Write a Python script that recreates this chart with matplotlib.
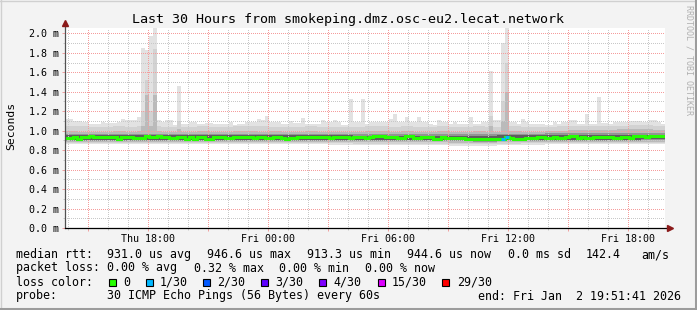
import numpy as np
import matplotlib.pyplot as plt
from matplotlib.patches import Rectangle
from matplotlib.ticker import FixedLocator, FuncFormatter

W, H = 697, 310
MONO = 'DejaVu Sans Mono'

# time axis in hours since Thu 00:00, last 30 hours ending Fri 19:51:41
t_start = 13 + 51 / 60 + 41 / 3600
t_end = t_start + 30

# median rtt per 12 minute step (ms)
median_ms = [
    0.924, 0.924, 0.934, 0.917, 0.934, 0.934, 0.940, 0.934, 0.934, 0.934,
    0.934, 0.934, 0.934, 0.917, 0.934, 0.934, 0.934, 0.924, 0.924, 0.924,
    0.945, 0.930, 0.930, 0.945, 0.934, 0.934, 0.924, 0.924, 0.934, 0.934,
    0.917, 0.934, 0.917, 0.934, 0.934, 0.917, 0.917, 0.934, 0.934, 0.934,
    0.924, 0.924, 0.934, 0.934, 0.934, 0.934, 0.934, 0.924, 0.934, 0.934,
    0.924, 0.924, 0.934, 0.934, 0.924, 0.913, 0.924, 0.924, 0.934, 0.934,
    0.934, 0.934, 0.934, 0.934, 0.934, 0.934, 0.924, 0.934, 0.934, 0.934,
    0.934, 0.924, 0.934, 0.934, 0.934, 0.924, 0.934, 0.940, 0.940, 0.940,
    0.934, 0.934, 0.934, 0.924, 0.924, 0.940, 0.940, 0.924, 0.924, 0.930,
    0.930, 0.930, 0.917, 0.917, 0.930, 0.924, 0.924, 0.924, 0.924, 0.924,
    0.913, 0.913, 0.913, 0.917, 0.917, 0.917, 0.913, 0.913, 0.913, 0.913,
    0.934, 0.924, 0.917, 0.917, 0.917, 0.924, 0.924, 0.924, 0.934, 0.934,
    0.924, 0.924, 0.934, 0.924, 0.924, 0.934, 0.940, 0.940, 0.924, 0.934,
    0.924, 0.924, 0.934, 0.934, 0.934, 0.934, 0.934, 0.924, 0.924, 0.934,
    0.934, 0.924, 0.945, 0.945, 0.940, 0.934, 0.945, 0.945, 0.940, 0.945,
]

# slowest ping per step (top of the smoke)
smoke_max = [
    1.120, 1.120, 1.100, 1.100, 1.090, 1.090, 1.066, 1.073, 1.073, 1.090,
    1.083, 1.083, 1.083, 1.090, 1.120, 1.107, 1.114, 1.114, 1.145, 1.850,
    1.830, 1.970, 2.100, 1.107, 1.090, 1.107, 1.107, 1.056, 1.460, 1.073,
    1.073, 1.090, 1.090, 1.066, 1.066, 1.080, 1.080, 1.073, 1.066, 1.073,
    1.073, 1.090, 1.056, 1.066, 1.066, 1.090, 1.090, 1.090, 1.124, 1.107,
    1.148, 1.090, 1.090, 1.090, 1.073, 1.073, 1.100, 1.080, 1.080, 1.134,
    1.073, 1.073, 1.073, 1.073, 1.107, 1.090, 1.090, 1.107, 1.090, 1.056,
    1.056, 1.330, 1.090, 1.090, 1.320, 1.073, 1.090, 1.090, 1.090, 1.090,
    1.090, 1.124, 1.169, 1.090, 1.090, 1.141, 1.090, 1.090, 1.141, 1.090,
    1.090, 1.066, 1.056, 1.107, 1.090, 1.090, 1.073, 1.090, 1.073, 1.073,
    1.073, 1.141, 1.073, 1.073, 1.090, 1.090, 1.610, 1.107, 1.107, 1.900,
    2.100, 1.090, 1.090, 1.073, 1.124, 1.090, 1.073, 1.073, 1.066, 1.066,
    1.056, 1.056, 1.090, 1.073, 1.090, 1.090, 1.114, 1.107, 1.073, 1.073,
    1.176, 1.073, 1.073, 1.350, 1.080, 1.080, 1.073, 1.090, 1.090, 1.090,
    1.090, 1.100, 1.100, 1.100, 1.090, 1.090, 1.107, 1.107, 1.090, 1.073,
]

# inner smoke levels, 36 minute steps
smoke_hi2 = [
    1.05, 1.05, 1.04, 1.04, 1.05, 1.04, 1.05, 1.05, 1.04, 1.04,
    1.04, 1.05, 1.04, 1.04, 1.05, 1.05, 1.05, 1.04, 1.04, 1.04,
    1.05, 1.04, 1.04, 1.04, 1.04, 1.05, 1.05, 1.04, 1.05, 1.04,
    1.04, 1.05, 1.04, 1.04, 1.05, 1.04, 1.04, 1.05, 1.04, 1.04,
    1.04, 1.05, 1.05, 1.05, 1.05, 1.05, 1.05, 1.06, 1.06, 1.05,
]
smoke_hi3 = [
    1.00, 0.99, 0.99, 0.99, 1.00, 0.99, 1.00, 1.00, 0.99, 0.99,
    0.99, 1.00, 0.99, 0.99, 1.00, 1.00, 0.99, 1.00, 0.99, 0.99,
    1.00, 0.99, 0.99, 0.99, 0.99, 1.00, 1.00, 0.99, 1.00, 0.99,
    0.99, 1.00, 0.99, 0.99, 1.00, 0.99, 0.99, 1.00, 0.99, 0.99,
    1.00, 1.00, 1.01, 1.01, 1.01, 1.01, 1.02, 1.02, 1.02, 1.01,
]
smoke_hi4 = [0.966, 0.966, 0.966, 0.966, 0.966, 0.966, 0.966, 0.966, 0.966, 0.966,
             0.966, 0.966, 0.966, 0.966, 0.966, 0.966, 0.966, 0.966, 0.966, 0.970,
             0.975, 0.975, 0.978, 0.978, 0.978]
smoke_hi5 = [0.952, 0.952, 0.952, 0.952, 0.952, 0.952, 0.952, 0.952, 0.952, 0.952,
             0.952, 0.952, 0.950, 0.950, 0.950, 0.950, 0.948, 0.948, 0.952, 0.955,
             0.958, 0.958, 0.960, 0.960, 0.960]
smoke_lo5 = [0.908, 0.908, 0.908, 0.908, 0.908, 0.908, 0.908, 0.908, 0.906, 0.906,
             0.906, 0.905, 0.903, 0.903, 0.903, 0.903, 0.900, 0.898, 0.903, 0.906,
             0.906, 0.908, 0.908, 0.908, 0.910]
smoke_lo4 = [0.898, 0.898, 0.898, 0.898, 0.896, 0.898, 0.898, 0.898, 0.896, 0.896,
             0.897, 0.895, 0.893, 0.893, 0.892, 0.892, 0.889, 0.887, 0.892, 0.895,
             0.896, 0.898, 0.898, 0.898, 0.900]
smoke_lo3 = [0.887, 0.887, 0.886, 0.887, 0.885, 0.887, 0.887, 0.886, 0.885, 0.885,
             0.885, 0.883, 0.881, 0.881, 0.879, 0.879, 0.876, 0.873, 0.879, 0.883,
             0.885, 0.887, 0.887, 0.887, 0.888]
smoke_lo2 = [0.875, 0.875, 0.873, 0.875, 0.873, 0.875, 0.875, 0.873, 0.872, 0.872,
             0.872, 0.870, 0.867, 0.867, 0.865, 0.865, 0.861, 0.858, 0.865, 0.870,
             0.872, 0.875, 0.875, 0.875, 0.876]
smoke_lo1 = [0.860, 0.863, 0.860, 0.863, 0.860, 0.860, 0.863, 0.860, 0.858, 0.858,
             0.858, 0.856, 0.853, 0.853, 0.850, 0.850, 0.846, 0.843, 0.850, 0.856,
             0.858, 0.860, 0.863, 0.863, 0.863]

# spikes: step index, second and third smoke level reached
spike_bins = [19, 20, 21, 22, 28, 106, 109, 110]
spike_hi2 = [1.20, 1.52, 1.20, 1.84, 1.10, 1.15, 1.30, 1.70]
spike_hi3 = [1.05, 1.37, 1.05, 1.37, 1.02, 1.05, 1.10, 1.40]

# packet loss per step (pings lost out of 30)
loss_bins = [109, 110]
loss_count = [1, 1]

tick_hours = [18, 24, 30, 36, 42]
tick_labels = ['Thu 18:00', 'Fri 00:00', 'Fri 06:00', 'Fri 12:00', 'Fri 18:00']

loss_names = ['0', '1/30', '2/30', '3/30', '4/30', '15/30', '29/30']
loss_colors = ['#26ff00', '#00b8ff', '#0059ff', '#5e00ff', '#7e00ff', '#dd00ff', '#ff0000']


def expand(arr, n=150):
    return np.repeat(np.asarray(arr, dtype=float), n // len(arr))


def px(x, y):
    return x / W, 1 - y / H


n = len(median_ms)
edges = np.linspace(t_start, t_end, n + 1)

hi2 = expand(smoke_hi2)
hi3 = expand(smoke_hi3)
for b, v2, v3 in zip(spike_bins, spike_hi2, spike_hi3):
    hi2[b] = max(hi2[b], v2)
    hi3[b] = max(hi3[b], v3)

# outer to inner smoke layers
layers = [
    (np.asarray(smoke_max), expand(smoke_lo1), '#e2e2e2'),
    (hi2, expand(smoke_lo2), '#d2d2d2'),
    (hi3, expand(smoke_lo3), '#bababa'),
    (expand(smoke_hi4), expand(smoke_lo4), '#949494'),
    (expand(smoke_hi5), expand(smoke_lo5), '#5e5e5e'),
]

fig = plt.figure(figsize=(W / 100, H / 100), dpi=100)
fig.patch.set_facecolor('#f3f3f3')

# 3d frame around the picture
fig.add_artist(plt.Line2D([0, 1], [1 - 0.5 / H] * 2, color='#d0d0d0', lw=1))
fig.add_artist(plt.Line2D([0.5 / W] * 2, [0, 1], color='#d0d0d0', lw=1))
fig.add_artist(plt.Line2D([0, 1], [1.5 / H] * 2, color='#9c9c9c', lw=2.2))
fig.add_artist(plt.Line2D([1 - 1.5 / W] * 2, [0, 1], color='#9c9c9c', lw=2.2))

ymax = 200 / 97.35
ax = fig.add_axes([65.2 / W, (H - 228) / H, 600 / W, 200 / H])
ax.set_facecolor('white')
ax.set_xlim(t_start, t_end)
ax.set_ylim(0, ymax)

for hi, lo, c in layers:
    ax.stairs(hi, edges, baseline=lo, fill=True, color=c, lw=0)

ax.stairs(median_ms, edges, baseline=None, color=loss_colors[0], lw=2.2, zorder=3)
for b, c in zip(loss_bins, loss_count):
    ax.hlines(median_ms[b], edges[b], edges[b + 1], color=loss_colors[c], lw=2.2, zorder=4)

# grid: gray every hour / 0.1 ms, red every 3 hours / 0.2 ms
hours = np.arange(np.ceil(t_start), t_end)
ax.xaxis.set_major_locator(FixedLocator([h for h in hours if h % 3 == 0]))
ax.xaxis.set_minor_locator(FixedLocator([h for h in hours if h % 3 != 0]))
ax.xaxis.set_major_formatter(FuncFormatter(
    lambda v, p: tick_labels[tick_hours.index(int(round(v)))] if int(round(v)) in tick_hours else ''))
ax.yaxis.set_major_locator(FixedLocator(np.arange(0, 2.01, 0.2)))
ax.yaxis.set_minor_locator(FixedLocator(np.arange(0.1, 2.01, 0.2)))
ax.yaxis.set_major_formatter(FuncFormatter(lambda v, p: f'{v:.1f} m'))
ax.set_axisbelow(False)
ax.grid(which='minor', color='#c8c8c8', ls=(0, (1, 2)), lw=0.72, antialiased=False)
ax.grid(which='major', color='#f59c9c', ls=(0, (1, 2)), lw=0.72, antialiased=False)
ax.tick_params(which='major', length=2.5, width=0.72, color='#f0a0a0', pad=2,
               labelsize=7.2, labelcolor='black')
ax.tick_params(which='minor', length=1.5, width=0.72, color='#c8c8c8')
for lab in ax.get_xticklabels() + ax.get_yticklabels():
    lab.set_fontfamily(MONO)
for s in ax.spines.values():
    s.set_visible(False)

# axes with arrow heads
ax.plot([0, 0], [0, 1 + 5 / 200], transform=ax.transAxes, color='#505050', lw=0.9, clip_on=False, zorder=5)
ax.plot([0, 1 + 5 / 600], [0, 0], transform=ax.transAxes, color='black', lw=0.9, clip_on=False, zorder=5)
ax.plot(0, 1 + 5 / 200, marker='^', ms=4.5, color='#8b1a1a', transform=ax.transAxes, clip_on=False, zorder=6)
ax.plot(1 + 5 / 600, 0, marker='>', ms=4.5, color='#8b1a1a', transform=ax.transAxes, clip_on=False, zorder=6)

fig.text(*px(348, 19), 'Last 30 Hours from smokeping.dmz.osc-eu2.lecat.network',
         family=MONO, fontsize=9.6, ha='center', va='center')
fig.text(*px(11, 126), 'Seconds', family=MONO, fontsize=8.2, rotation=90, ha='center', va='center')
fig.text(*px(689, 5), 'RRDTOOL / TOBI OETIKER', family=MONO, fontsize=6, rotation=270,
         ha='center', va='top', color='#b0b0b0')

# legend
fs = 8.4
rows = [
    (254.5, [(16, 'median rtt:'), (107, '931.0 us avg'), (207, '946.6 us max'),
             (307, '913.3 us min'), (407, '944.6 us now'), (508, '0.0 ms sd'),
             (586, '142.4'), (641, 'am/s')]),
    (268, [(16, 'packet loss:'), (107, '0.00 % avg'), (194, '0.32 % max'),
           (279, '0.00 % min'), (365, '0.00 % now')]),
    (282, [(16, 'loss color:')]),
    (296, [(16, 'probe:'), (107, '30 ICMP Echo Pings (56 Bytes) every 60s'),
           (478, 'end: Fri Jan  2 19:51:41 2026')]),
]
for y, items in rows:
    for x, s in items:
        fig.text(*px(x, y), s, family=MONO, fontsize=fs, ha='left', va='center')

box_x = [109, 146, 203, 261, 319, 378, 442]
lab_x = [123, 160, 217, 275, 333, 392, 457]
for bx, lx, name, c in zip(box_x, lab_x, loss_names, loss_colors):
    fig.add_artist(Rectangle(px(bx, 286), 7 / W, 7 / H, transform=fig.transFigure,
                             facecolor=c, edgecolor='black', lw=0.8))
    fig.text(*px(lx, 282), name, family=MONO, fontsize=fs, ha='left', va='center')

fig.savefig('out.png', dpi=100, facecolor=fig.get_facecolor())
